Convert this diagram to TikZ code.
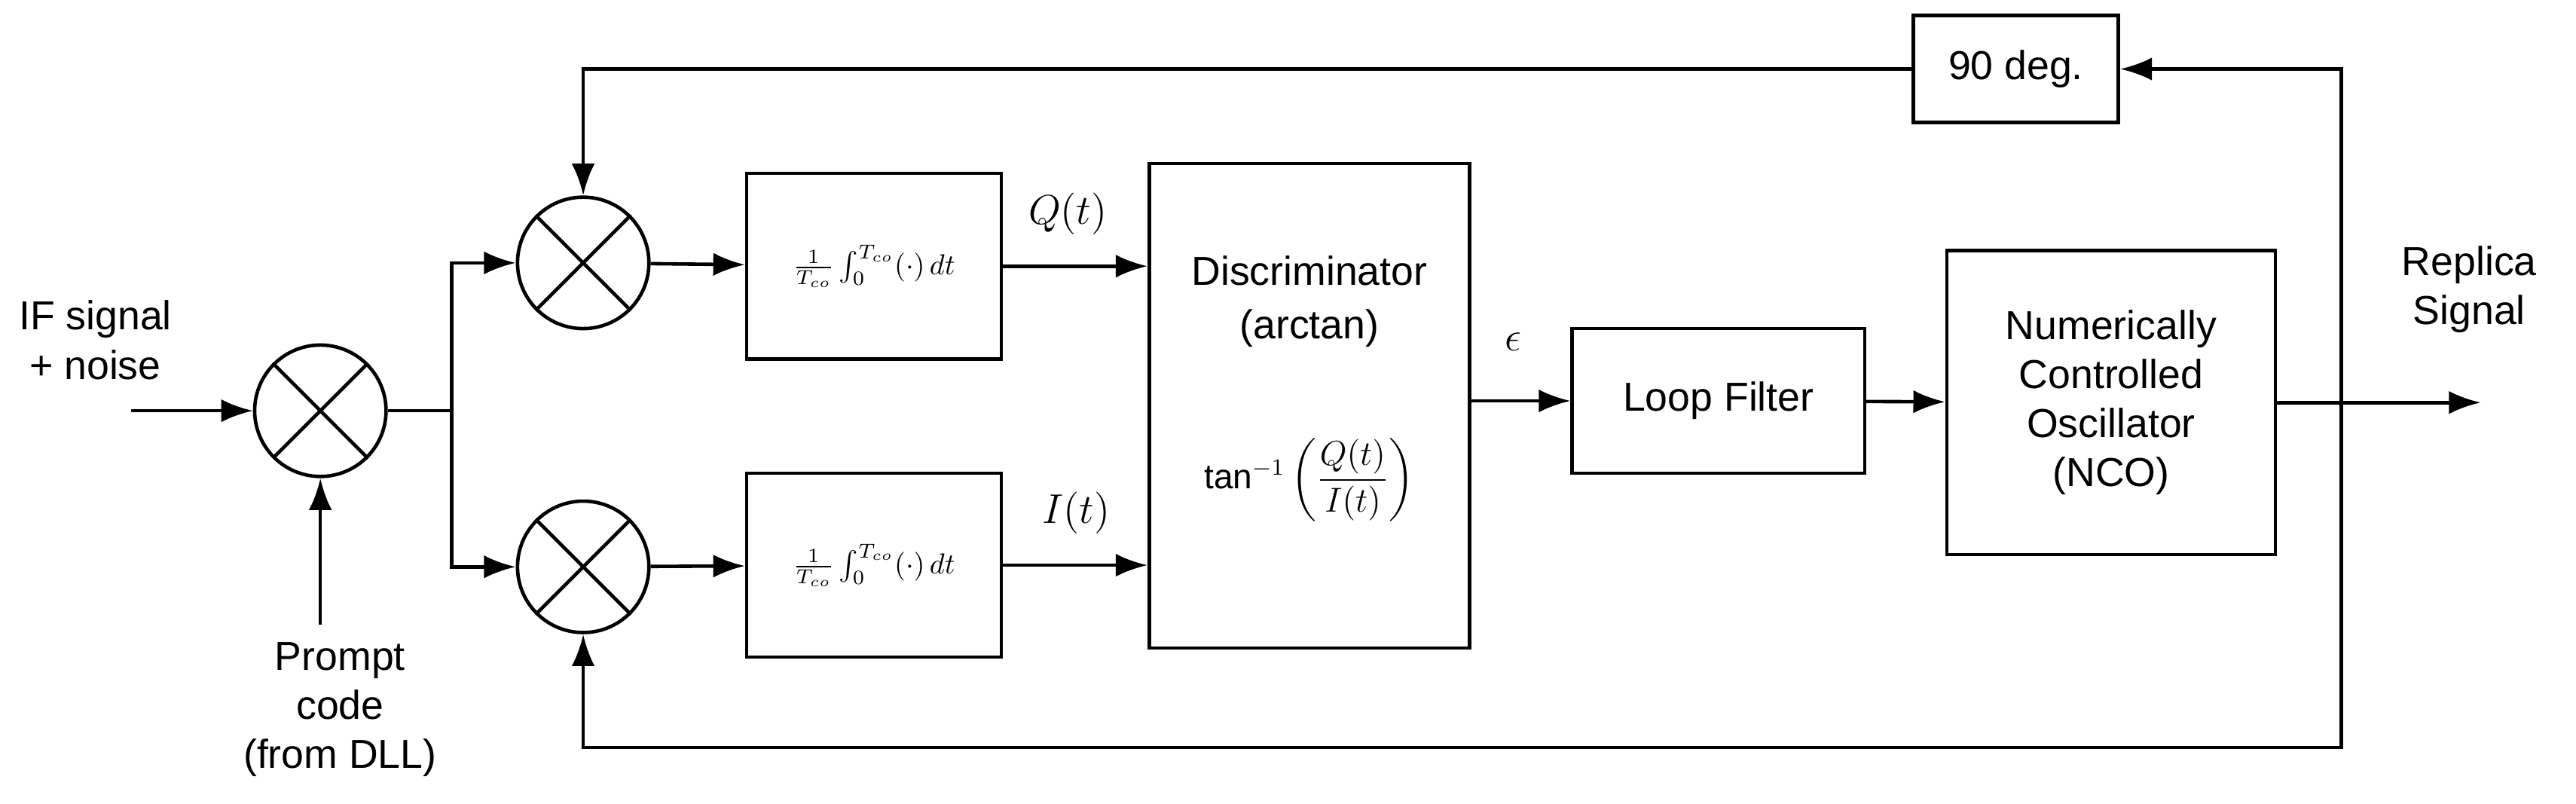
\documentclass[tikz,border=0pt]{standalone}
\usepackage{fontspec}
\setmainfont{Liberation Sans}
\usepackage{amsmath}
\usetikzlibrary{arrows.meta}
\begin{document}
\begin{tikzpicture}[x=0.02cm,y=-0.02cm,
  box/.style={draw,line width=1.2pt,inner sep=0pt,align=center},
  mix/.style={draw,circle,line width=1.2pt,minimum size=1.6cm,inner sep=0pt},
  arr/.style={line width=1.2pt,-{Latex[length=11pt,width=8pt]}},
  ln/.style={line width=1.2pt},
  txt/.style={align=center,font=\fontsize{14}{17}\selectfont}]
\useasboundingbox (0,0) rectangle (1568,489);
\newcommand{\crossmix}[1]{\draw[ln] (#1.45)--(#1.225) (#1.135)--(#1.315);}
\node[mix] (m0) at (195,250) {};
\node[mix] (m1) at (355,160) {};
\node[mix] (m2) at (355,345) {};
\crossmix{m0}\crossmix{m1}\crossmix{m2}
\node[box,minimum width=3.1cm,minimum height=2.26cm] (i1) at (532,162) {$\frac{1}{T_{co}}\int_0^{T_{co}}(\cdot)\,dt$};
\node[box,minimum width=3.1cm,minimum height=2.24cm] (i2) at (532,344) {$\frac{1}{T_{co}}\int_0^{T_{co}}(\cdot)\,dt$};
\node[box,minimum width=3.9cm,minimum height=5.9cm] (d) at (797,247) {};
\node[txt] at (797,165) {Discriminator};
\node[txt] at (797,200) {(arctan)};
\node at (797,292) {\large$\tan^{-1}\left(\dfrac{Q(t)}{I(t)}\right)$};
\node[box,minimum width=3.56cm,minimum height=1.76cm,txt] (lf) at (1046,244) {Loop Filter};
\node[box,minimum width=4cm,minimum height=3.7cm,txt] (nco) at (1285,245) {Numerically\\Controlled\\Oscillator\\(NCO)};
\node[box,minimum width=2.5cm,minimum height=1.3cm,txt] (p90) at (1227,42) {90 deg.};
\coordinate (in) at (80,250);
\coordinate (pc) at (195,380);
\coordinate (sp) at (275,250);
\coordinate (out) at (1510,245);
\coordinate (fb) at (1425,245);
\node[txt] at (58,207) {IF signal\\+ noise};
\node[txt] at (207,432) {Prompt\\code\\(from DLL)};
\node[txt] at (1503,176) {Replica\\Signal};
\node at (650,130) {\Large$Q(t)$};
\node at (655,312) {\Large$I(t)$};
\node at (921,208) {\Large$\epsilon$};
\draw[arr] (in)--(m0);
\draw[arr] (pc)--(m0);
\draw[ln] (m0)--(sp);
\draw[arr] (sp) |- (m1);
\draw[arr] (sp) |- (m2);
\draw[arr] (m1)--(i1);
\draw[arr] (m2)--(i2);
\draw[arr] (i1.east)--(d.west|-i1.east);
\draw[arr] (i2.east)--(d.west|-i2.east);
\draw[arr] (d.east|-lf.west)--(lf.west);
\draw[arr] (lf)--(nco);
\draw[arr] (nco.east|-out)--(out);
\draw[arr] (fb) |- (p90.east);
\draw[arr] (p90.west) -| (m1.north);
\draw[arr] (fb) |- (355,455) -- (m2.south);
\end{tikzpicture}
\end{document}
